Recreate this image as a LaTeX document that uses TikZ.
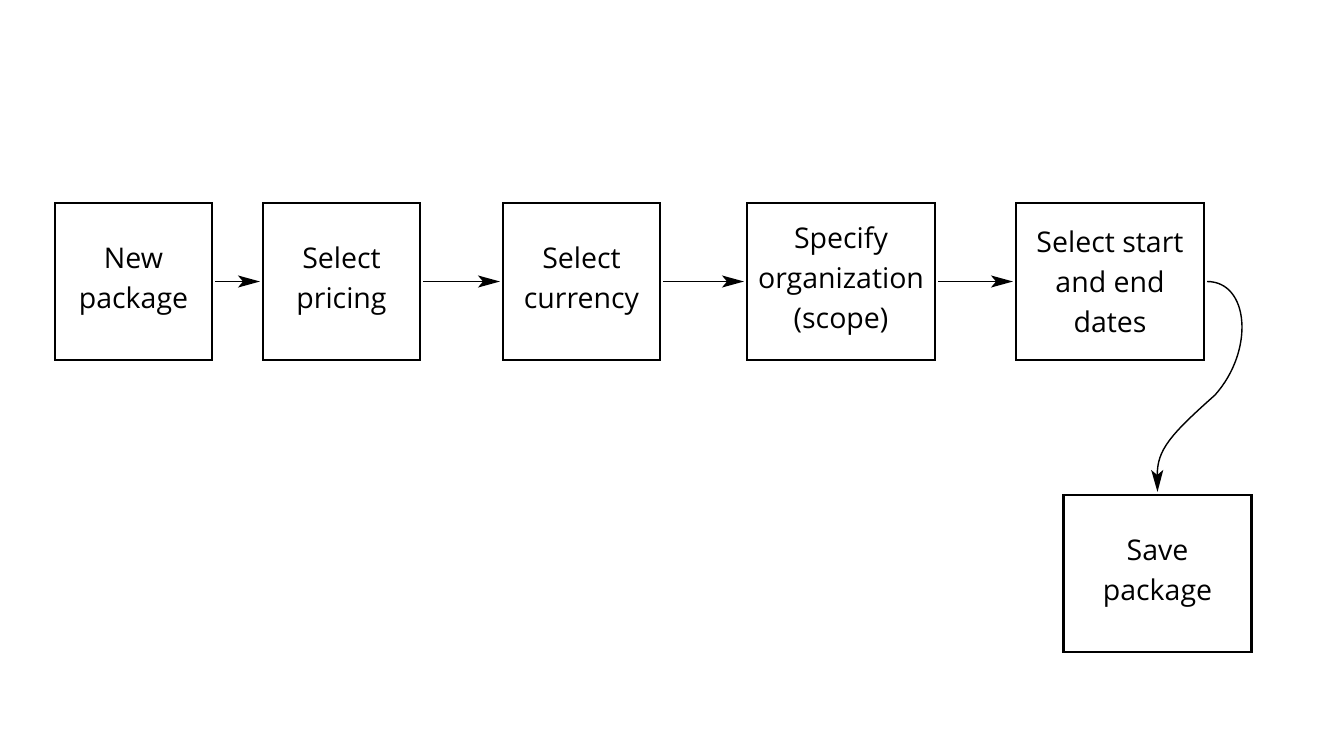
\documentclass[tikz,border=0pt]{standalone}
\usepackage{fontspec}
\setmainfont{Open Sans}
\usetikzlibrary{positioning,arrows.meta}
\tikzstyle{stepbox} = [draw, line width=2.6pt, outer sep=0pt, minimum height=157pt, align=center, inner sep=0pt, font=\fontsize{28.5}{40}\selectfont]
\tikzstyle{flow} = [-{Stealth[length=22pt,width=12pt,inset=5pt]}, line width=1.4pt, shorten <=3pt, shorten >=3pt]

\begin{document}
\begin{tikzpicture}[x=1pt, y=1pt]
	\useasboundingbox (0,0) rectangle (1333,-750);
	\node[stepbox, minimum width=157pt] (new) at (133.5,-281.5) {New\\package};
	\node[stepbox, minimum width=157pt, right=51pt of new] (pricing) {Select\\pricing};
	\node[stepbox, minimum width=157pt, right=83pt of pricing] (currency) {Select\\currency};
	\node[stepbox, minimum width=188pt, right=87pt of currency] (scope) {Specify\\organization\\(scope)};
	\node[stepbox, minimum width=188pt, right=81pt of scope] (dates) {Select start\\and end\\dates};
	\node[stepbox, minimum width=188pt] (save) at (1157.5,-573.5) {Save\\package};
	% connectors
	\draw[flow] (new) -- (pricing);
	\draw[flow] (pricing) -- (currency);
	\draw[flow] (currency) -- (scope);
	\draw[flow] (scope) -- (dates);
	\draw[flow] (dates.east) .. controls +(45,0) and (1255,-350) .. (1215,-395)
		.. controls (1170,-435) and (1157,-450) .. (save.north);
\end{tikzpicture}
\end{document}
